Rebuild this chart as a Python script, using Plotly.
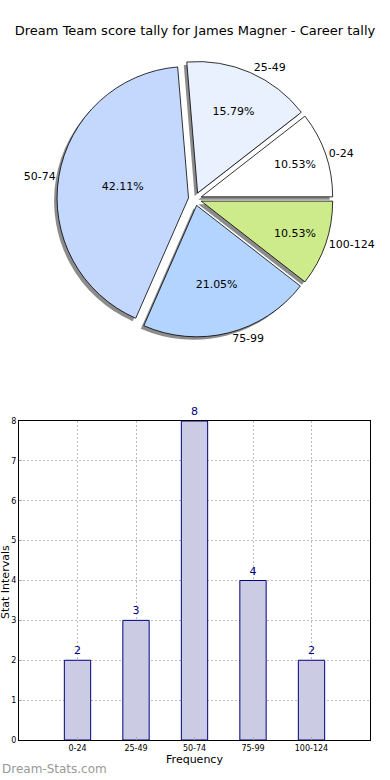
import plotly.graph_objects as go

categories = ["0-24", "25-49", "50-74", "75-99", "100-124"]
counts = [2, 3, 8, 4, 2]
pie_colors = ["#ffffff", "#e9f1ff", "#c4d8fe", "#b3d4fe", "#cdeb8b"]
y_ticks = [0, 1, 2, 3, 4, 5, 6, 7, 8]

W, H = 390, 780
FONT = "DejaVu Sans"

def px_x(p):
    return p / W

def px_y(p):
    return 1 - p / H

# pie geometry (pixels)
cx, cy, half = 195, 199, 138
pulls = [0.05] * len(counts)
# first slice starts at 3 o'clock going counterclockwise (plotly: clockwise degrees from 12)
rot = 90 - 360 * counts[0] / sum(counts)

def dom(dx=0, dy=0):
    return dict(x=[px_x(cx - half + dx), px_x(cx + half + dx)],
                y=[px_y(cy + half + dy), px_y(cy - half + dy)])

fig = go.Figure()

common = dict(labels=categories, values=counts, sort=False,
              direction="counterclockwise", rotation=rot, pull=pulls)

# shadow
fig.add_trace(go.Pie(
    **common, domain=dom(-3, 3),
    marker=dict(colors=["#8c8c8c"] * 5, line=dict(width=0)),
    textinfo="none", hoverinfo="skip", showlegend=False,
))
# main pie with percentages
fig.add_trace(go.Pie(
    **common, domain=dom(),
    marker=dict(colors=pie_colors, line=dict(color="#000000", width=0.8)),
    texttemplate="%{percent:.2%}", textposition="inside",
    insidetextorientation="horizontal",
    textfont=dict(family=FONT, size=11, color="#000000"),
    showlegend=False,
))
# labels outside
fig.add_trace(go.Pie(
    **common, domain=dom(),
    marker=dict(colors=["rgba(0,0,0,0)"] * 5, line=dict(width=0)),
    textinfo="label", textposition="outside",
    textfont=dict(family=FONT, size=11, color="#000000"),
    hoverinfo="skip", showlegend=False,
))

# bar chart
fig.add_trace(go.Bar(
    x=list(range(len(categories))), y=counts, width=0.45,
    marker=dict(color="#cbcbe3", line=dict(color="#000080", width=1)),
    text=[str(c) for c in counts], textposition="outside",
    textfont=dict(family=FONT, size=11, color="#000080"),
    cliponaxis=False, showlegend=False,
))

grid = dict(showgrid=True, gridcolor="#bdbdbd", griddash="2px,2px", gridwidth=1)

fig.update_layout(
    width=W, height=H,
    margin=dict(l=0, r=0, t=0, b=0, autoexpand=False),
    paper_bgcolor="white", plot_bgcolor="white",
    font=dict(family=FONT, color="#000000"),
    title=dict(text="Dream Team score tally for James Magner - Career tally",
               x=0.5, xanchor="center", y=px_y(30), yanchor="middle",
               xref="paper",
               font=dict(family=FONT, size=13, color="#000000")),
    xaxis=dict(
        domain=[px_x(19), px_x(370)], range=[-1, 5],
        tickmode="array", tickvals=list(range(len(categories))), ticktext=categories,
        tickfont=dict(family=FONT, size=8), showline=True, linecolor="#000000",
        mirror=True, linewidth=1, **grid,
        ticks="inside", ticklen=3, tickcolor="#aaaaaa", zeroline=False,
        title=dict(text="Frequency", font=dict(family=FONT, size=11), standoff=2),
        automargin=False, fixedrange=True,
    ),
    yaxis=dict(
        domain=[px_y(740), px_y(421)], range=[0, 8],
        tickmode="array", tickvals=y_ticks,
        tickfont=dict(family=FONT, size=8), showline=True, linecolor="#000000",
        mirror=True, linewidth=1, **grid,
        ticks="inside", ticklen=3, tickcolor="#aaaaaa", zeroline=False,
        automargin=False, fixedrange=True,
    ),
    annotations=[
        dict(text="Stat Intervals", textangle=-90, x=px_x(5), y=px_y(582),
             xref="paper", yref="paper", xanchor="center", yanchor="middle",
             showarrow=False, font=dict(family=FONT, size=11, color="#000000")),
        dict(text="Dream-Stats.com", x=0, y=px_y(769), xref="paper", yref="paper",
             xanchor="left", yanchor="middle", showarrow=False,
             font=dict(family=FONT, size=12, color="#999999")),
    ],
)

fig.write_html("out.html", config={"displayModeBar": False},
               post_script="document.body.style.margin='0';")
